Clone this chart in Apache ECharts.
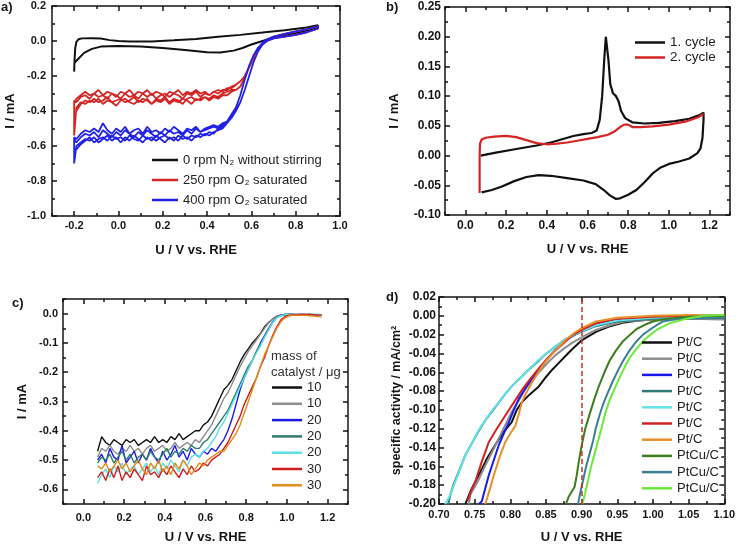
<!DOCTYPE html>
<html>
<head>
<meta charset="utf-8">
<script src="https://cdn.jsdelivr.net/npm/echarts@6/dist/echarts.min.js"></script>
<style>
html, body { margin: 0; background: #fff; }
#chart { width: 738px; height: 545px; }
</style>
</head>
<body>
<div id="chart"></div>
<script>
// ---------- panel a) : CV at different rotation rates ----------
const aBlackPot = [-0.2, -0.198, -0.195, -0.19, -0.18, -0.165, -0.12, -0.08, -0.04, 0.0, 0.05, 0.15, 0.25, 0.35, 0.45, 0.55, 0.65, 0.75, 0.85, 0.9,
  0.9, 0.85, 0.8, 0.75, 0.7, 0.65, 0.6, 0.56, 0.52, 0.46, 0.4, 0.3, 0.2, 0.1, 0.0, -0.08, -0.12, -0.155, -0.18, -0.195, -0.2];
const aBlackCur = [-0.175, -0.1, -0.04, -0.005, 0.01, 0.015, 0.016, 0.014, 0.005, 0.0, -0.003, -0.003, 0.004, 0.012, 0.024, 0.035, 0.048, 0.062, 0.077, 0.09,
  0.075, 0.058, 0.045, 0.032, 0.018, 0.0, -0.02, -0.04, -0.055, -0.066, -0.064, -0.052, -0.04, -0.032, -0.029, -0.032, -0.045, -0.068, -0.1, -0.12, -0.13];

// plateau region, shared potentials
const aPot = [-0.19, -0.17, -0.15, -0.13, -0.11, -0.09, -0.07, -0.05, -0.03, -0.01, 0.01, 0.03, 0.05, 0.07, 0.09, 0.11, 0.13, 0.15,
  0.17, 0.19, 0.21, 0.23, 0.25, 0.27, 0.29, 0.31, 0.33, 0.35, 0.37, 0.39, 0.41, 0.43, 0.45, 0.47, 0.49, 0.51];
const aRedAn1 = [-0.33, -0.31, -0.29, -0.31, -0.30, -0.28, -0.31, -0.29, -0.30, -0.32, -0.29, -0.30, -0.28, -0.31, -0.29, -0.30, -0.28, -0.31,
  -0.29, -0.30, -0.32, -0.29, -0.30, -0.28, -0.31, -0.29, -0.30, -0.28, -0.30, -0.29, -0.31, -0.29, -0.28, -0.29, -0.27, -0.27];
const aRedAn2 = [-0.35, -0.32, -0.31, -0.33, -0.30, -0.32, -0.31, -0.33, -0.30, -0.31, -0.33, -0.30, -0.32, -0.31, -0.33, -0.30, -0.32, -0.30,
  -0.33, -0.31, -0.30, -0.32, -0.30, -0.31, -0.33, -0.30, -0.31, -0.29, -0.32, -0.30, -0.31, -0.29, -0.30, -0.28, -0.28, -0.26];
const aRedCath1 = [-0.38, -0.35, -0.36, -0.34, -0.35, -0.33, -0.36, -0.34, -0.35, -0.37, -0.34, -0.33, -0.35, -0.36, -0.34, -0.35, -0.33, -0.36,
  -0.34, -0.35, -0.33, -0.36, -0.34, -0.35, -0.33, -0.34, -0.36, -0.33, -0.34, -0.32, -0.34, -0.32, -0.33, -0.31, -0.31, -0.29];
const aRedCath2 = [-0.40, -0.36, -0.34, -0.35, -0.33, -0.35, -0.34, -0.32, -0.35, -0.34, -0.33, -0.35, -0.34, -0.32, -0.35, -0.33, -0.34, -0.36,
  -0.33, -0.34, -0.32, -0.35, -0.33, -0.34, -0.36, -0.33, -0.32, -0.34, -0.33, -0.32, -0.33, -0.31, -0.32, -0.30, -0.29, -0.28];
const aBlueAn1 = [-0.56, -0.53, -0.51, -0.52, -0.50, -0.52, -0.47, -0.51, -0.53, -0.50, -0.52, -0.49, -0.53, -0.51, -0.50, -0.53, -0.49, -0.52,
  -0.51, -0.53, -0.50, -0.52, -0.49, -0.51, -0.53, -0.50, -0.51, -0.49, -0.52, -0.50, -0.49, -0.48, -0.49, -0.47, -0.46, -0.43];
const aBlueAn2 = [-0.58, -0.55, -0.53, -0.54, -0.52, -0.55, -0.51, -0.53, -0.55, -0.52, -0.54, -0.51, -0.53, -0.55, -0.52, -0.54, -0.51, -0.53,
  -0.55, -0.52, -0.54, -0.51, -0.53, -0.52, -0.54, -0.51, -0.53, -0.50, -0.52, -0.51, -0.50, -0.49, -0.50, -0.48, -0.46, -0.42];
const aBlueCath1 = [-0.60, -0.58, -0.56, -0.57, -0.55, -0.58, -0.56, -0.54, -0.57, -0.55, -0.58, -0.55, -0.57, -0.54, -0.56, -0.58, -0.55, -0.57,
  -0.54, -0.56, -0.58, -0.55, -0.57, -0.54, -0.56, -0.55, -0.57, -0.54, -0.55, -0.53, -0.54, -0.52, -0.51, -0.50, -0.47, -0.44];
const aBlueCath2 = [-0.62, -0.59, -0.57, -0.55, -0.58, -0.56, -0.55, -0.57, -0.54, -0.56, -0.55, -0.57, -0.54, -0.56, -0.57, -0.54, -0.56, -0.55,
  -0.57, -0.55, -0.54, -0.56, -0.55, -0.57, -0.54, -0.56, -0.54, -0.55, -0.53, -0.54, -0.52, -0.53, -0.50, -0.49, -0.46, -0.43];
// kinetic region
const aHighPot = [0.53, 0.55, 0.57, 0.59, 0.61, 0.63, 0.65, 0.67, 0.70, 0.75, 0.80, 0.85, 0.90];
const aRedHighUp = [-0.25, -0.23, -0.20, -0.15, -0.10, -0.05, -0.02, 0.0, 0.025, 0.04, 0.055, 0.067, 0.085];
const aRedHighDown = [-0.28, -0.26, -0.21, -0.15, -0.09, -0.04, -0.015, 0.0, 0.015, 0.025, 0.035, 0.05, 0.07];
const aBlueHighUp = [-0.38, -0.31, -0.22, -0.14, -0.08, -0.04, -0.01, 0.01, 0.025, 0.04, 0.055, 0.067, 0.085];
const aBlueHighDown = [-0.40, -0.35, -0.28, -0.20, -0.12, -0.06, -0.02, 0.0, 0.015, 0.025, 0.035, 0.05, 0.07];
// vertex at -0.2 V: [lowest current cycle 1, restart cycle 1, lowest cycle 2, restart cycle 2]
const aVertex = -0.2;
const aRedTurn = [-0.54, -0.36, -0.44, -0.34];
const aBlueTurn = [-0.70, -0.55, -0.62, -0.56];

// ---------- panel b) : first and second cycle ----------
const bCycle1 = [[0.075, 0.0], [0.15, 0.005], [0.25, 0.011], [0.35, 0.017], [0.42, 0.022], [0.48, 0.028], [0.53, 0.033], [0.58, 0.036],
  [0.62, 0.038], [0.645, 0.042], [0.66, 0.06], [0.672, 0.1], [0.682, 0.16], [0.69, 0.2], [0.695, 0.198], [0.703, 0.16], [0.712, 0.12],
  [0.725, 0.105], [0.74, 0.1], [0.752, 0.092], [0.765, 0.075], [0.785, 0.063], [0.82, 0.056], [0.88, 0.054], [0.95, 0.055], [1.03, 0.058],
  [1.1, 0.062], [1.15, 0.068], [1.17, 0.072], [1.17, 0.06], [1.165, 0.03], [1.155, 0.012], [1.14, 0.004], [1.1, -0.005], [1.05, -0.01],
  [1.0, -0.014], [0.96, -0.02], [0.92, -0.03], [0.88, -0.045], [0.84, -0.058], [0.8, -0.066], [0.76, -0.072], [0.74, -0.073], [0.71, -0.067],
  [0.68, -0.058], [0.64, -0.048], [0.58, -0.042], [0.5, -0.038], [0.42, -0.034], [0.36, -0.033], [0.3, -0.036], [0.24, -0.043],
  [0.18, -0.052], [0.13, -0.058], [0.08, -0.062]];
const bCycle2 = [[0.07, -0.063], [0.07, -0.03], [0.07, 0.0], [0.072, 0.02], [0.08, 0.027], [0.1, 0.03], [0.14, 0.032], [0.2, 0.033],
  [0.25, 0.031], [0.3, 0.026], [0.35, 0.021], [0.4, 0.019], [0.45, 0.02], [0.5, 0.022], [0.55, 0.025], [0.6, 0.028], [0.65, 0.031],
  [0.7, 0.035], [0.73, 0.04], [0.76, 0.048], [0.78, 0.052], [0.8, 0.052], [0.82, 0.048], [0.86, 0.048], [0.92, 0.049], [1.0, 0.052],
  [1.08, 0.057], [1.14, 0.064], [1.17, 0.07]];

// ---------- panel c) : catalyst loading ----------
const cPot = [0.07, 0.09, 0.11, 0.13, 0.15, 0.17, 0.19, 0.21, 0.23, 0.25, 0.27, 0.29, 0.31, 0.33, 0.35, 0.37, 0.39, 0.41, 0.43, 0.45,
  0.47, 0.49, 0.51, 0.53, 0.55, 0.57, 0.59, 0.61, 0.63, 0.65, 0.67, 0.69, 0.71, 0.73, 0.75, 0.77, 0.79, 0.81, 0.83, 0.85, 0.87, 0.89,
  0.91, 0.93, 0.95, 0.97, 0.99, 1.01, 1.03, 1.05, 1.07, 1.09, 1.11, 1.13, 1.15, 1.17];
const cBlack10 = [-0.47, -0.42, -0.44, -0.45, -0.43, -0.44, -0.45, -0.43, -0.44, -0.43, -0.45, -0.44, -0.43, -0.44, -0.42, -0.44, -0.43, -0.44,
  -0.42, -0.43, -0.41, -0.43, -0.42, -0.41, -0.40, -0.40, -0.38, -0.37, -0.35, -0.32, -0.29, -0.26, -0.245, -0.225, -0.195, -0.165, -0.14,
  -0.12, -0.10, -0.085, -0.068, -0.045, -0.03, -0.018, -0.009, -0.005, -0.003, -0.003, -0.003, -0.004, -0.003, -0.004, -0.003, -0.004, -0.004, -0.005];
const cGray10 = [-0.49, -0.46, -0.47, -0.45, -0.47, -0.48, -0.46, -0.47, -0.45, -0.47, -0.46, -0.48, -0.46, -0.45, -0.47, -0.46, -0.45, -0.47,
  -0.46, -0.44, -0.46, -0.45, -0.44, -0.45, -0.43, -0.44, -0.42, -0.40, -0.38, -0.35, -0.32, -0.29, -0.27, -0.24, -0.21, -0.18, -0.155,
  -0.13, -0.11, -0.09, -0.07, -0.05, -0.032, -0.018, -0.009, -0.005, -0.003, -0.003, -0.004, -0.003, -0.004, -0.003, -0.004, -0.003, -0.004, -0.005];
const cBlue20 = [-0.50, -0.48, -0.51, -0.46, -0.49, -0.50, -0.45, -0.51, -0.49, -0.47, -0.51, -0.48, -0.50, -0.46, -0.49, -0.51, -0.47, -0.50,
  -0.48, -0.45, -0.49, -0.47, -0.50, -0.46, -0.48, -0.49, -0.47, -0.48, -0.46, -0.47, -0.45, -0.43, -0.40, -0.36, -0.31, -0.26, -0.22,
  -0.19, -0.16, -0.13, -0.10, -0.075, -0.05, -0.028, -0.013, -0.006, -0.004, -0.003, -0.003, -0.004, -0.003, -0.004, -0.003, -0.004, -0.003, -0.004];
const cTeal20 = [-0.51, -0.49, -0.50, -0.48, -0.51, -0.49, -0.47, -0.50, -0.48, -0.51, -0.49, -0.48, -0.50, -0.47, -0.49, -0.50, -0.48, -0.46,
  -0.49, -0.47, -0.48, -0.46, -0.47, -0.45, -0.46, -0.46, -0.44, -0.43, -0.41, -0.39, -0.37, -0.35, -0.33, -0.30, -0.27, -0.24, -0.21,
  -0.18, -0.16, -0.13, -0.105, -0.08, -0.055, -0.03, -0.014, -0.007, -0.004, -0.003, -0.003, -0.004, -0.003, -0.004, -0.003, -0.004, -0.004, -0.004];
const cCyan20 = [-0.58, -0.55, -0.53, -0.56, -0.52, -0.54, -0.51, -0.55, -0.53, -0.52, -0.55, -0.53, -0.51, -0.54, -0.52, -0.55, -0.51, -0.53,
  -0.50, -0.52, -0.54, -0.50, -0.52, -0.49, -0.48, -0.49, -0.47, -0.46, -0.44, -0.42, -0.39, -0.37, -0.34, -0.31, -0.28, -0.25, -0.22,
  -0.19, -0.16, -0.135, -0.11, -0.08, -0.055, -0.03, -0.014, -0.007, -0.004, -0.003, -0.003, -0.003, -0.004, -0.003, -0.004, -0.003, -0.004, -0.004];
const cRed30 = [-0.56, -0.54, -0.57, -0.53, -0.56, -0.52, -0.57, -0.54, -0.56, -0.53, -0.55, -0.57, -0.52, -0.55, -0.54, -0.56, -0.53, -0.55,
  -0.52, -0.54, -0.56, -0.53, -0.55, -0.52, -0.54, -0.53, -0.51, -0.52, -0.50, -0.49, -0.48, -0.46, -0.44, -0.41, -0.38, -0.35, -0.31,
  -0.28, -0.25, -0.22, -0.18, -0.15, -0.11, -0.075, -0.045, -0.022, -0.01, -0.005, -0.004, -0.003, -0.004, -0.003, -0.004, -0.004, -0.005, -0.005];
const cOrange30 = [-0.52, -0.53, -0.51, -0.54, -0.52, -0.50, -0.53, -0.51, -0.54, -0.52, -0.50, -0.53, -0.55, -0.51, -0.53, -0.50, -0.54, -0.52,
  -0.55, -0.51, -0.53, -0.50, -0.52, -0.55, -0.53, -0.51, -0.52, -0.50, -0.49, -0.48, -0.47, -0.47, -0.45, -0.43, -0.41, -0.38, -0.34,
  -0.30, -0.26, -0.22, -0.18, -0.14, -0.11, -0.08, -0.05, -0.028, -0.015, -0.008, -0.005, -0.005, -0.006, -0.006, -0.007, -0.008, -0.01, -0.012];

// ---------- panel d) : specific activity ----------
const dPtBlack = [[0.737, -0.2], [0.745, -0.185], [0.756, -0.169], [0.767, -0.152], [0.779, -0.137], [0.79, -0.124], [0.802, -0.113],
  [0.809, -0.1], [0.816, -0.092], [0.828, -0.083], [0.84, -0.075], [0.85, -0.065], [0.859, -0.057], [0.868, -0.05], [0.877, -0.043],
  [0.886, -0.036], [0.9, -0.026], [0.92, -0.017], [0.94, -0.011], [0.96, -0.007], [0.98, -0.005], [1.0, -0.004], [1.05, -0.003], [1.1, -0.003]];
const dPtGray = [[0.742, -0.2], [0.744, -0.19], [0.755, -0.175], [0.765, -0.159], [0.775, -0.144], [0.784, -0.13], [0.793, -0.116],
  [0.802, -0.102], [0.812, -0.09], [0.821, -0.078], [0.83, -0.069], [0.84, -0.06], [0.851, -0.051], [0.863, -0.042], [0.875, -0.035],
  [0.886, -0.029], [0.9, -0.023], [0.92, -0.015], [0.94, -0.01], [0.96, -0.006], [1.0, -0.004], [1.05, -0.003], [1.1, -0.004]];
const dPtBlue = [[0.756, -0.2], [0.76, -0.197], [0.765, -0.183], [0.77, -0.169], [0.777, -0.153], [0.784, -0.137], [0.791, -0.125],
  [0.798, -0.113], [0.805, -0.1], [0.812, -0.088], [0.821, -0.077], [0.831, -0.066], [0.843, -0.054], [0.855, -0.043], [0.87, -0.031],
  [0.886, -0.022], [0.9, -0.016], [0.92, -0.009], [0.95, -0.004], [1.0, -0.001], [1.05, 0.0], [1.1, 0.0]];
const dPtTeal = [[0.713, -0.2], [0.716, -0.19], [0.72, -0.18], [0.728, -0.165], [0.737, -0.148], [0.747, -0.134], [0.756, -0.122],
  [0.765, -0.111], [0.775, -0.101], [0.784, -0.092], [0.793, -0.083], [0.802, -0.075], [0.814, -0.066], [0.826, -0.057], [0.838, -0.049],
  [0.849, -0.041], [0.863, -0.033], [0.877, -0.025], [0.896, -0.018], [0.92, -0.011], [0.95, -0.006], [1.0, -0.003], [1.05, -0.002], [1.1, -0.002]];
const dPtCyan = [[0.709, -0.2], [0.711, -0.197], [0.716, -0.19], [0.721, -0.18], [0.729, -0.164], [0.737, -0.148], [0.747, -0.134],
  [0.756, -0.121], [0.765, -0.111], [0.775, -0.1], [0.784, -0.092], [0.793, -0.083], [0.802, -0.075], [0.814, -0.066], [0.826, -0.057],
  [0.838, -0.048], [0.849, -0.041], [0.863, -0.033], [0.877, -0.025], [0.896, -0.0175], [0.92, -0.01], [0.95, -0.005], [1.0, -0.002], [1.05, -0.001], [1.1, -0.001]];
const dPtRed = [[0.74, -0.197], [0.745, -0.186], [0.751, -0.176], [0.76, -0.155], [0.77, -0.134], [0.781, -0.12], [0.793, -0.106],
  [0.805, -0.092], [0.817, -0.078], [0.828, -0.067], [0.84, -0.056], [0.851, -0.046], [0.863, -0.037], [0.875, -0.029], [0.886, -0.021],
  [0.9, -0.015], [0.92, -0.008], [0.95, -0.003], [1.0, -0.001], [1.05, 0.0], [1.1, 0.0]];
const dPtOrange = [[0.765, -0.2], [0.771, -0.185], [0.777, -0.169], [0.785, -0.15], [0.793, -0.134], [0.8, -0.125], [0.807, -0.117],
  [0.812, -0.104], [0.816, -0.092], [0.823, -0.081], [0.831, -0.07], [0.84, -0.059], [0.849, -0.049], [0.863, -0.037], [0.877, -0.026],
  [0.89, -0.018], [0.9, -0.013], [0.92, -0.006], [0.95, -0.002], [1.0, 0.0], [1.05, 0.001], [1.1, 0.0]];
const dCuGreen = [[0.878, -0.2], [0.882, -0.192], [0.89, -0.182], [0.893, -0.17], [0.896, -0.155], [0.9, -0.138], [0.905, -0.12],
  [0.911, -0.105], [0.918, -0.088], [0.925, -0.073], [0.932, -0.06], [0.939, -0.048], [0.948, -0.037], [0.958, -0.027], [0.968, -0.02],
  [0.977, -0.014], [0.99, -0.009], [1.0, -0.006], [1.02, -0.003], [1.05, -0.001], [1.1, 0.0]];
const dCuTeal = [[0.895, -0.2], [0.898, -0.188], [0.902, -0.175], [0.906, -0.161], [0.911, -0.147], [0.916, -0.133], [0.92, -0.119],
  [0.925, -0.106], [0.93, -0.094], [0.937, -0.081], [0.944, -0.069], [0.951, -0.058], [0.958, -0.048], [0.967, -0.037], [0.977, -0.027],
  [0.986, -0.02], [0.995, -0.015], [1.005, -0.01], [1.014, -0.006], [1.03, -0.004], [1.05, -0.003], [1.1, -0.002]];
const dCuLime = [[0.901, -0.2], [0.905, -0.188], [0.909, -0.175], [0.913, -0.161], [0.918, -0.147], [0.923, -0.133], [0.928, -0.119],
  [0.933, -0.104], [0.939, -0.09], [0.946, -0.078], [0.953, -0.066], [0.96, -0.055], [0.967, -0.045], [0.976, -0.036], [0.986, -0.027],
  [0.995, -0.021], [1.005, -0.015], [1.023, -0.008], [1.047, -0.003], [1.07, 0.0], [1.1, 0.001]];
const dRefPotential = 0.9;

// ---------- tick positions (evenly spaced, from axis min to max) and labelled majors ----------
const aXTicks = [-0.3, -0.2, -0.1, 0.0, 0.1, 0.2, 0.3, 0.4, 0.5, 0.6, 0.7, 0.8, 0.9, 1.0];
const aXMajor = [-0.2, 0.0, 0.2, 0.4, 0.6, 0.8, 1.0];
const aYTicks = [-1.0, -0.9, -0.8, -0.7, -0.6, -0.5, -0.4, -0.3, -0.2, -0.1, 0.0, 0.1, 0.2];
const aYMajor = [-1.0, -0.8, -0.6, -0.4, -0.2, 0.0, 0.2];
const bcXTicks = [-0.1, 0.0, 0.1, 0.2, 0.3, 0.4, 0.5, 0.6, 0.7, 0.8, 0.9, 1.0, 1.1, 1.2, 1.3];
const bcXMajor = [0.0, 0.2, 0.4, 0.6, 0.8, 1.0, 1.2];
const bYTicks = [-0.1, -0.075, -0.05, -0.025, 0.0, 0.025, 0.05, 0.075, 0.1, 0.125, 0.15, 0.175, 0.2, 0.225, 0.25];
const bYMajor = [-0.1, -0.05, 0.0, 0.05, 0.1, 0.15, 0.2, 0.25];
const cYTicks = [-0.65, -0.6, -0.55, -0.5, -0.45, -0.4, -0.35, -0.3, -0.25, -0.2, -0.15, -0.1, -0.05, 0.0, 0.05];
const cYMajor = [-0.6, -0.5, -0.4, -0.3, -0.2, -0.1, 0.0];
const dXTicks = [0.7, 0.725, 0.75, 0.775, 0.8, 0.825, 0.85, 0.875, 0.9, 0.925, 0.95, 0.975, 1.0, 1.025, 1.05, 1.075, 1.1];
const dXMajor = [0.7, 0.75, 0.8, 0.85, 0.9, 0.95, 1.0, 1.05, 1.1];
const dYTicks = [-0.2, -0.19, -0.18, -0.17, -0.16, -0.15, -0.14, -0.13, -0.12, -0.11, -0.1, -0.09, -0.08, -0.07, -0.06, -0.05,
  -0.04, -0.03, -0.02, -0.01, 0.0, 0.01, 0.02];
const dYMajor = [-0.2, -0.18, -0.16, -0.14, -0.12, -0.1, -0.08, -0.06, -0.04, -0.02, 0.0, 0.02];

const FONT = 'Arial, "Liberation Sans", Helvetica, sans-serif';
const INK = '#151515';

const zip = (xs, ys) => xs.map((x, i) => [x, ys[i]]);

// per side pair: hidden value axis for the data, then frame axes carrying ticks + labels
function axisGroup(dim, grid, ticks, majors, digits, label, name, nameGap, nameSize) {
  const sides = dim === 'x' ? ['bottom', 'top'] : ['left', 'right'];
  const isMajor = i => majors.some(m => Math.abs(m - ticks[i]) < 1e-9);
  const labels = ticks.map(t => t.toFixed(digits));
  const frame = (position, major, withLabels, withLine) => ({
    type: 'category', gridIndex: grid, position, data: labels, boundaryGap: false,
    splitLine: { show: false },
    axisLine: { show: withLine, onZero: false, lineStyle: { color: INK, width: 1.5 } },
    axisTick: {
      show: true, inside: true, length: major ? 5 : 3,
      interval: major ? (i => isMajor(i)) : 0,
      lineStyle: { color: INK, width: 1.5 }
    },
    axisLabel: {
      show: withLabels, interval: i => isMajor(i), margin: label.margin,
      fontFamily: FONT, fontWeight: 'bold', fontSize: label.size, color: INK
    }
  });
  const data = { type: 'value', gridIndex: grid, min: ticks[0], max: ticks[ticks.length - 1], show: false };
  const main = frame(sides[0], true, true, true);
  Object.assign(main, {
    name, nameLocation: 'middle', nameGap,
    nameTextStyle: { fontFamily: FONT, fontWeight: 'bold', fontSize: nameSize || 13, color: INK }
  });
  return [data, main, frame(sides[0], false, false, false), frame(sides[1], true, false, true), frame(sides[1], false, false, false)];
}

const UV = 'U / V vs. RHE';
const xAxis = [
  ...axisGroup('x', 0, aXTicks, aXMajor, 1, { size: 11, margin: 4 }, UV, 28),
  ...axisGroup('x', 1, bcXTicks, bcXMajor, 1, { size: 12, margin: 5 }, UV, 28),
  ...axisGroup('x', 2, bcXTicks, bcXMajor, 1, { size: 11, margin: 8 }, UV, 27),
  ...axisGroup('x', 3, dXTicks, dXMajor, 2, { size: 11, margin: 5 }, UV, 27)
];
const yAxis = [
  ...axisGroup('y', 0, aYTicks, aYMajor, 1, { size: 11, margin: 6 }, 'I / mA', 35),
  ...axisGroup('y', 1, bYTicks, bYMajor, 2, { size: 12, margin: 4 }, 'I / mA', 44),
  ...axisGroup('y', 2, cYTicks, cYMajor, 1, { size: 11, margin: 5 }, 'I / mA', 34),
  ...axisGroup('y', 3, dYTicks, dYMajor, 2, { size: 12, margin: 3 }, 'specific activity / mA/cm²', 36, 12.5)
];

const line = (name, grid, data, color, width) => ({
  type: 'line', name, xAxisIndex: grid * 5, yAxisIndex: grid * 5, data, color,
  symbol: 'none', showSymbol: false, lineStyle: { width, color }, z: 3
});

// panel a paths: cathodic sweep to the vertex, anodic sweep back, two cycles
function cvPath(highUp, highDown, cath1, an1, cath2, an2, turn) {
  const down = zip(aHighPot, highDown).reverse();
  const up = zip(aHighPot, highUp);
  return [
    ...down, ...zip(aPot, cath1).reverse(), [aVertex, turn[0]], [aVertex, turn[1]], ...zip(aPot, an1), ...up,
    ...down, ...zip(aPot, cath2).reverse(), [aVertex, turn[2]], [aVertex, turn[3]], ...zip(aPot, an2), ...up
  ];
}

const aNames = ['0 rpm N₂ without stirring', '250 rpm O₂ saturated', '400 rpm O₂ saturated'];
const bNames = ['1. cycle', '2. cycle'];
const cNames = ['10#1', '10#2', '20#1', '20#2', '20#3', '30#1', '30#2'];
const dNames = ['Pt/C#1', 'Pt/C#2', 'Pt/C#3', 'Pt/C#4', 'Pt/C#5', 'Pt/C#6', 'Pt/C#7', 'PtCu/C#1', 'PtCu/C#2', 'PtCu/C#3'];

const series = [
  line(aNames[0], 0, zip(aBlackPot, aBlackCur), '#111111', 2),
  line(aNames[1], 0, cvPath(aRedHighUp, aRedHighDown, aRedCath1, aRedAn1, aRedCath2, aRedAn2, aRedTurn), '#d42424', 1.8),
  line(aNames[2], 0, cvPath(aBlueHighUp, aBlueHighDown, aBlueCath1, aBlueAn1, aBlueCath2, aBlueAn2, aBlueTurn), '#2222e6', 1.8),

  line(bNames[0], 1, bCycle1, '#111111', 2.2),
  line(bNames[1], 1, bCycle2, '#d42424', 2.2),

  line(cNames[0], 2, zip(cPot, cBlack10), '#111111', 1.4),
  line(cNames[1], 2, zip(cPot, cGray10), '#8c8c8c', 1.4),
  line(cNames[2], 2, zip(cPot, cBlue20), '#1a1ae6', 1.4),
  line(cNames[3], 2, zip(cPot, cTeal20), '#2e7d6e', 1.4),
  line(cNames[4], 2, zip(cPot, cCyan20), '#5ce0e6', 1.4),
  line(cNames[5], 2, zip(cPot, cRed30), '#d01c1c', 1.4),
  line(cNames[6], 2, zip(cPot, cOrange30), '#e38a1c', 1.4),

  line(dNames[0], 3, dPtBlack, '#111111', 2),
  line(dNames[1], 3, dPtGray, '#8c8c8c', 2),
  line(dNames[2], 3, dPtBlue, '#1a1aee', 2),
  line(dNames[3], 3, dPtTeal, '#2e7a78', 2),
  line(dNames[4], 3, dPtCyan, '#62e3e8', 2),
  line(dNames[5], 3, dPtRed, '#d02424', 2),
  line(dNames[6], 3, dPtOrange, '#e8902c', 2),
  line(dNames[7], 3, dCuGreen, '#3c7d1c', 2),
  line(dNames[8], 3, dCuTeal, '#3a8090', 2),
  line(dNames[9], 3, dCuLime, '#6aea3a', 2)
];
series[12].markLine = {
  symbol: 'none', silent: true, label: { show: false },
  lineStyle: { color: '#c8302c', type: [5, 3], width: 1.5 },
  data: [{ xAxis: dRefPotential }]
};

const legendBase = (left, top, data, width, size, lh, gap) => ({
  left, top, padding: 0, orient: 'vertical', data, icon: 'rect', itemWidth: width, itemHeight: 2.5, itemGap: gap,
  selectedMode: false, formatter: n => n.split('#')[0],
  textStyle: { fontFamily: FONT, fontSize: size, lineHeight: lh, color: '#222' }
});

const panelLabel = (text, x, y) => ({
  type: 'text', left: x, top: y,
  style: { text, font: 'bold 13px ' + FONT, fill: INK }
});
const plainText = (text, x, y) => ({
  type: 'text', left: x, top: y,
  style: { text, font: '13px ' + FONT, fill: '#333' }
});

const option = {
  animation: false,
  backgroundColor: '#ffffff',
  grid: [
    { left: 52, top: 6, width: 288, height: 210 },
    { left: 445, top: 7, width: 285, height: 208 },
    { left: 63, top: 299, width: 285, height: 207 },
    { left: 439, top: 297, width: 286, height: 209 }
  ],
  xAxis, yAxis, series,
  legend: [
    legendBase(152, 153, aNames, 26, 13, 14, 6),
    legendBase(635, 35, bNames, 30, 13.5, 15, 0),
    legendBase(272, 380, cNames, 30, 13, 15, 1.3),
    legendBase(642, 335, dNames, 30, 13, 15, 1.2)
  ],
  graphic: [
    panelLabel('a)', 1, 1),
    panelLabel('b)', 386, 1),
    panelLabel('c)', 12, 297),
    panelLabel('d)', 386, 291),
    plainText('mass of', 271, 350),
    plainText('catalyst / μg', 271, 366)
  ]
};

const chart = echarts.init(document.getElementById('chart'), null, { renderer: 'canvas' });
chart.setOption(option);
</script>
</body>
</html>
